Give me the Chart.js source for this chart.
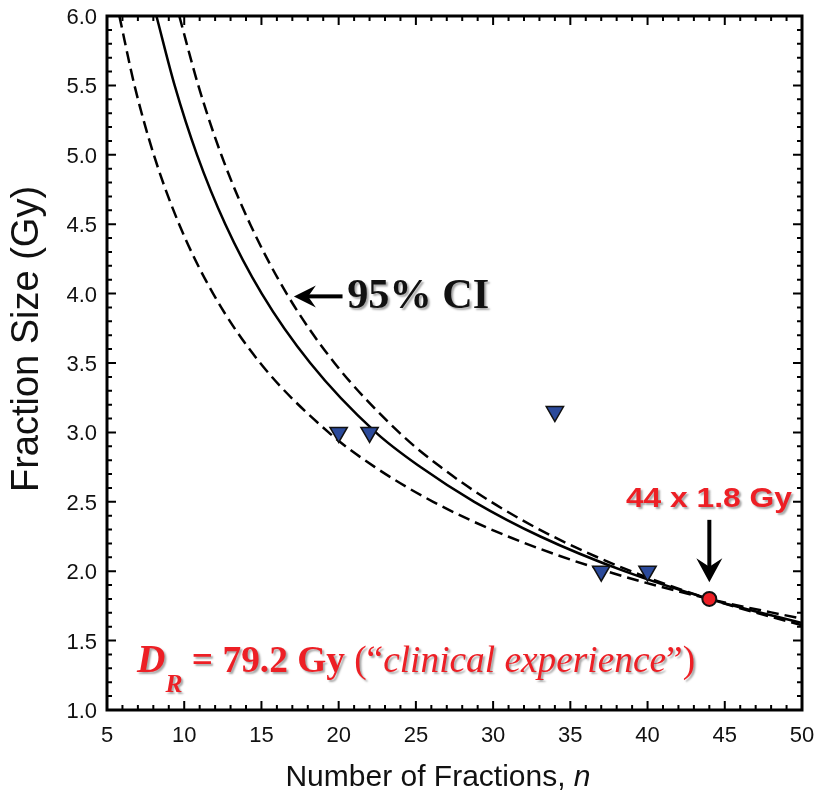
<!DOCTYPE html>
<html>
<head>
<meta charset="utf-8">
<script src="https://cdn.jsdelivr.net/npm/chart.js@4.4.1/dist/chart.umd.min.js"></script>
<style>
  html, body { margin: 0; padding: 0; background: #fff; }
  #wrap { width: 816px; height: 804px; }
</style>
</head>
<body>
<div id="wrap"><canvas id="fracChart" width="816" height="804"></canvas></div>
<script>
// observed schedules (triangles)
var obsN = [20, 22, 34, 37, 40];
var obsD = [3.0, 3.0, 3.15, 2.0, 2.0];

// reference schedule 44 x 1.8 Gy
var refN = [44];
var refD = [1.8];

// iso-effect curve
var fitN = [8.2, 9.38, 10.83, 12.66, 15.02, 18.16, 22.4, 25.3, 28.78, 33.06, 38.5, 44, 50];
var fitD = [6.0, 5.5, 5.0, 4.5, 4.0, 3.5, 3.0, 2.75, 2.5, 2.25, 2.0, 1.8, 1.626];

// 95% CI, upper (right) branch
var ciHiN = [9.68, 10.91, 12.40, 14.27, 16.63, 19.73, 23.91, 26.61, 29.87, 33.88, 38.93, 44, 50];
var ciHiD = [6.0, 5.5, 5.0, 4.5, 4.0, 3.5, 3.0, 2.75, 2.5, 2.25, 2.0, 1.8, 1.61];

// 95% CI, lower (left) branch
var ciLoN = [5.8, 6.78, 8.03, 9.67, 11.87, 14.92, 19.35, 22.35, 26.12, 30.97, 37.33, 44, 50];
var ciLoD = [6.0, 5.5, 5.0, 4.5, 4.0, 3.5, 3.0, 2.75, 2.5, 2.25, 2.0, 1.8, 1.657];

var xTicks = [5, 10, 15, 20, 25, 30, 35, 40, 45, 50];
var yTicks = [1.0, 1.5, 2.0, 2.5, 3.0, 3.5, 4.0, 4.5, 5.0, 5.5, 6.0];

function pts(xs, ys) {
  return xs.map(function (v, i) { return {x: v, y: ys[i]}; });
}

var RED = '#ed1f25';
var SANS = '"Liberation Sans", Arial, sans-serif';
var SERIF = '"Liberation Serif", "Times New Roman", serif';

function curve(data, dashed) {
  return {
    data: data,
    showLine: true,
    borderColor: '#000',
    borderWidth: 2.5,
    borderDash: dashed ? [12, 6] : [],
    pointRadius: 0,
    cubicInterpolationMode: 'monotone',
    fill: false,
    order: 2
  };
}

// frame, inward ticks, tick labels, titles and annotations
var decor = {
  id: 'decor',
  afterDatasetsDraw: function (chart) {
    var ctx = chart.ctx, a = chart.chartArea, x = chart.scales.x, y = chart.scales.y;
    ctx.save();
    ctx.strokeStyle = '#000';
    ctx.lineWidth = 2;
    var i, p, len;
    for (i = 5; i <= 50; i++) {
      p = x.getPixelForValue(i);
      len = i % 5 === 0 ? 9 : 5;
      ctx.beginPath();
      ctx.moveTo(p, a.bottom); ctx.lineTo(p, a.bottom - len);
      ctx.moveTo(p, a.top); ctx.lineTo(p, a.top + len);
      ctx.stroke();
    }
    for (i = 10; i <= 60; i++) {
      p = y.getPixelForValue(i / 10);
      len = i % 5 === 0 ? 9 : 5;
      ctx.beginPath();
      ctx.moveTo(a.left, p); ctx.lineTo(a.left + len, p);
      ctx.moveTo(a.right, p); ctx.lineTo(a.right - len, p);
      ctx.stroke();
    }
    ctx.lineWidth = 3;
    ctx.strokeRect(a.left, a.top, a.right - a.left, a.bottom - a.top);

    // tick labels
    ctx.fillStyle = '#111';
    ctx.font = '22px ' + SANS;
    ctx.textBaseline = 'alphabetic';
    ctx.textAlign = 'center';
    xTicks.forEach(function (v) { ctx.fillText(String(v), x.getPixelForValue(v), a.bottom + 32); });
    ctx.textAlign = 'right';
    yTicks.forEach(function (v) { ctx.fillText(v.toFixed(1), a.left - 10, y.getPixelForValue(v) + 8); });

    // axis titles
    ctx.textAlign = 'left';
    ctx.font = '30px ' + SANS;
    var t1 = 'Number of Fractions, ';
    var w1 = ctx.measureText(t1).width;
    ctx.font = 'italic 30px ' + SANS;
    var w2 = ctx.measureText('n').width;
    var sx = 438 - (w1 + w2) / 2;
    ctx.font = '30px ' + SANS;
    ctx.fillText(t1, sx, 786);
    ctx.font = 'italic 30px ' + SANS;
    ctx.fillText('n', sx + w1, 786);

    ctx.save();
    ctx.translate(38, 339);
    ctx.rotate(-Math.PI / 2);
    ctx.textAlign = 'center';
    ctx.font = '38px ' + SANS;
    ctx.fillText('Fraction Size (Gy)', 0, 0);
    ctx.restore();

    // arrows
    function arrow(x0, y0, x1, y1, hl, hw, lw) {
      var ang = Math.atan2(y1 - y0, x1 - x0);
      ctx.save();
      ctx.translate(x1, y1);
      ctx.rotate(ang);
      var L = Math.hypot(x1 - x0, y1 - y0);
      ctx.fillStyle = '#000';
      ctx.fillRect(-L, -lw / 2, L - hl * 0.6, lw);
      ctx.beginPath();
      ctx.moveTo(0, 0);
      ctx.lineTo(-hl, -hw);
      ctx.lineTo(-hl * 0.65, 0);
      ctx.lineTo(-hl, hw);
      ctx.closePath();
      ctx.fill();
      ctx.restore();
    }
    arrow(x.getPixelForValue(20.25), y.getPixelForValue(3.98),
          x.getPixelForValue(17.1), y.getPixelForValue(3.98), 22, 11, 4);
    arrow(x.getPixelForValue(44), y.getPixelForValue(2.37),
          x.getPixelForValue(44), y.getPixelForValue(1.92), 24, 13, 4);

    // texts with soft shadow
    ctx.shadowColor = 'rgba(0,0,0,0.35)';
    ctx.shadowOffsetX = 2;
    ctx.shadowOffsetY = 2;
    ctx.shadowBlur = 2;

    ctx.fillStyle = '#111';
    ctx.font = 'bold 43px ' + SERIF;
    var ci = '95% CI';
    var cw = ctx.measureText(ci).width;
    ctx.save();
    ctx.translate(x.getPixelForValue(20.55), y.getPixelForValue(3.895));
    ctx.scale(142 / cw, 1);
    ctx.fillText(ci, 0, 0);
    ctx.restore();

    ctx.fillStyle = RED;
    ctx.font = 'bold 28px ' + SANS;
    var lbl = '44 x 1.8 Gy';
    var lw0 = ctx.measureText(lbl).width;
    ctx.save();
    ctx.translate(x.getPixelForValue(38.6), y.getPixelForValue(2.46));
    ctx.scale(166 / lw0, 1);
    ctx.fillText(lbl, 0, 0);
    ctx.restore();

    // D_R = 79.2 Gy ("clinical experience")
    var parts = [
      ['bold italic 40px', 'D', 0],
      ['bold italic 26px', 'R', 20],
      ['bold 38px', ' = 79.2 Gy ', 0],
      ['38px', '(\u201c', 0],
      ['italic 38px', 'clinical experience', 0],
      ['38px', '\u201d)', 0]
    ];
    var tot = 0;
    parts.forEach(function (q) { ctx.font = q[0] + ' ' + SERIF; tot += ctx.measureText(q[1]).width; });
    var k = 558 / tot;
    ctx.save();
    ctx.translate(x.getPixelForValue(6.95), y.getPixelForValue(1.274));
    ctx.scale(k, 1);
    var cx = 0;
    parts.forEach(function (q) {
      ctx.font = q[0] + ' ' + SERIF;
      ctx.fillText(q[1], cx, q[2]);
      cx += ctx.measureText(q[1]).width;
    });
    ctx.restore();
    ctx.restore();
  }
};

var ctx = document.getElementById('fracChart').getContext('2d');
new Chart(ctx, {
  type: 'scatter',
  data: {
    datasets: [
      {
        data: pts(obsN, obsD),
        pointStyle: 'triangle',
        rotation: 180,
        radius: 10,
        backgroundColor: '#2b4a9b',
        borderColor: '#111',
        borderWidth: 1.5,
        order: 0
      },
      {
        data: pts(refN, refD),
        pointStyle: 'circle',
        radius: 7,
        backgroundColor: RED,
        borderColor: '#111',
        borderWidth: 2,
        order: 0
      },
      curve(pts(fitN, fitD), false),
      curve(pts(ciHiN, ciHiD), true),
      curve(pts(ciLoN, ciLoD), true)
    ]
  },
  options: {
    responsive: false,
    animation: false,
    layout: {padding: {top: 16, right: 14, left: 0, bottom: 0}},
    plugins: {legend: {display: false}, tooltip: {enabled: false}},
    scales: {
      x: {
        type: 'linear', min: 5, max: 50,
        afterFit: function (s) { s.height = 94; },
        grid: {display: false},
        border: {display: false},
        ticks: {display: false, stepSize: 5}
      },
      y: {
        type: 'linear', min: 1, max: 6,
        afterFit: function (s) { s.width = 107; },
        grid: {display: false},
        border: {display: false},
        ticks: {display: false, stepSize: 0.5}
      }
    }
  },
  plugins: [decor]
});
</script>
</body>
</html>
